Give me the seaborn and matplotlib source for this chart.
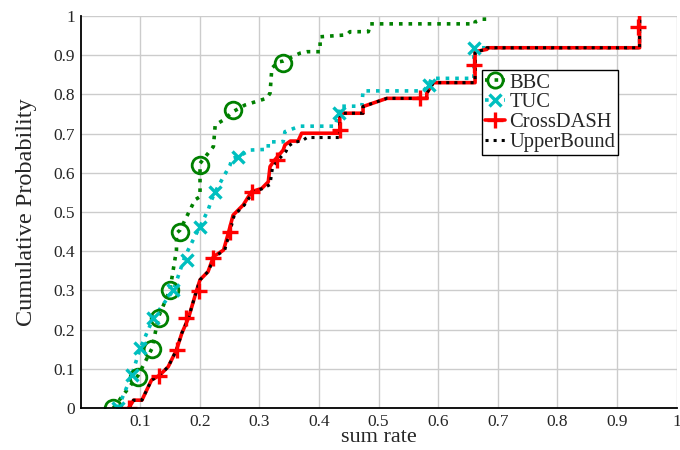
import matplotlib
matplotlib.use("Agg")
import matplotlib.pyplot as plt
from matplotlib.lines import Line2D
import seaborn as sns

# CDF curves (sum rate, cumulative probability)
bbc_x = [0.055, 0.097, 0.120, 0.131, 0.150, 0.161, 0.161, 0.167, 0.192, 0.2005, 0.2005,
         0.223, 0.226, 0.240, 0.256, 0.276, 0.312, 0.318, 0.321, 0.332, 0.340, 0.368,
         0.380, 0.402, 0.402, 0.447, 0.452, 0.483, 0.486, 0.662, 0.662, 0.673, 0.684]
bbc_y = [0.0, 0.084, 0.152, 0.233, 0.301, 0.403, 0.446, 0.454, 0.531, 0.539, 0.624,
         0.667, 0.722, 0.735, 0.756, 0.773, 0.790, 0.803, 0.867, 0.883, 0.885, 0.905,
         0.909, 0.909, 0.947, 0.952, 0.960, 0.960, 0.980, 0.980, 0.985, 0.992, 0.992]
bbc_mx = [0.055, 0.097, 0.120, 0.131, 0.150, 0.167, 0.2005, 0.256, 0.340]
bbc_my = [0.0, 0.08, 0.15, 0.23, 0.30, 0.45, 0.62, 0.76, 0.88]

tuc_x = [0.063, 0.086, 0.100, 0.122, 0.156, 0.175, 0.189, 0.2005, 0.214, 0.220, 0.226,
         0.240, 0.251, 0.254, 0.265, 0.284, 0.315, 0.315, 0.340, 0.343, 0.368, 0.427,
         0.434, 0.435, 0.472, 0.474, 0.575, 0.584, 0.589, 0.660, 0.660, 0.938, 0.938]
tuc_y = [0.0, 0.084, 0.152, 0.229, 0.301, 0.386, 0.429, 0.463, 0.505, 0.531, 0.552,
         0.590, 0.620, 0.637, 0.641, 0.658, 0.660, 0.679, 0.679, 0.705, 0.719, 0.719,
         0.753, 0.770, 0.770, 0.809, 0.809, 0.824, 0.841, 0.841, 0.919, 0.919, 1.0]
tuc_mx = [0.063, 0.086, 0.100, 0.122, 0.156, 0.178, 0.2005, 0.226, 0.265, 0.434, 0.584, 0.660]
tuc_my = [0.0, 0.084, 0.152, 0.229, 0.301, 0.378, 0.463, 0.552, 0.641, 0.753, 0.824, 0.919]

cross_x = [0.081, 0.089, 0.103, 0.119, 0.133, 0.147, 0.161, 0.170, 0.181, 0.195, 0.2005,
           0.214, 0.223, 0.240, 0.248, 0.256, 0.273, 0.287, 0.304, 0.315, 0.318, 0.326,
           0.340, 0.343, 0.352, 0.365, 0.371, 0.435, 0.435, 0.474, 0.474, 0.514, 0.581,
           0.581, 0.592, 0.662, 0.662, 0.682, 0.682, 0.938, 0.938]
cross_y = [0.0, 0.020, 0.020, 0.071, 0.084, 0.105, 0.148, 0.191, 0.229, 0.301, 0.327,
           0.348, 0.386, 0.403, 0.446, 0.492, 0.518, 0.552, 0.560, 0.577, 0.616, 0.633,
           0.658, 0.671, 0.681, 0.681, 0.701, 0.701, 0.752, 0.752, 0.769, 0.790, 0.790,
           0.803, 0.830, 0.830, 0.909, 0.915, 0.919, 0.919, 1.0]
cross_mx = [0.081, 0.131, 0.162, 0.177, 0.198, 0.222, 0.250, 0.287, 0.329, 0.435, 0.570, 0.660, 0.936]
cross_my = [0.0, 0.082, 0.148, 0.229, 0.299, 0.382, 0.450, 0.552, 0.633, 0.709, 0.790, 0.875, 0.973]

upper_x = [0.081, 0.089, 0.103, 0.119, 0.133, 0.147, 0.161, 0.170, 0.181, 0.195, 0.2005,
           0.214, 0.225, 0.242, 0.250, 0.258, 0.275, 0.290, 0.306, 0.318, 0.322, 0.330,
           0.345, 0.348, 0.357, 0.372, 0.380, 0.435, 0.435, 0.474, 0.474, 0.514, 0.581,
           0.581, 0.592, 0.662, 0.662, 0.682, 0.682, 0.938, 0.938]
upper_y = [0.0, 0.020, 0.020, 0.071, 0.084, 0.105, 0.148, 0.191, 0.229, 0.301, 0.327,
           0.348, 0.386, 0.403, 0.446, 0.492, 0.518, 0.552, 0.560, 0.570, 0.612, 0.630,
           0.655, 0.667, 0.677, 0.682, 0.690, 0.690, 0.752, 0.752, 0.769, 0.790, 0.790,
           0.803, 0.830, 0.830, 0.909, 0.915, 0.919, 0.919, 1.0]

ticks = [0, 0.1, 0.2, 0.3, 0.4, 0.5, 0.6, 0.7, 0.8, 0.9, 1]
tick_labels = ["0", "0.1", "0.2", "0.3", "0.4", "0.5", "0.6", "0.7", "0.8", "0.9", "1"]

GREEN, CYAN, RED = "#008000", "#00bfbf", "#ff0000"

sns.set_style("whitegrid", {"grid.color": "#cccccc", "axes.edgecolor": "black"})
plt.rcParams["font.family"] = ["Liberation Serif", "DejaVu Serif"]

fig = plt.figure(figsize=(6.8, 4.5), dpi=100)
ax = fig.add_axes([0.1184, 0.0933, 0.8765, 0.8711])

sns.lineplot(x=bbc_x, y=bbc_y, sort=False, estimator=None, color=GREEN,
             linestyle=":", linewidth=2.6, ax=ax, legend=False)
sns.lineplot(x=tuc_x, y=tuc_y, sort=False, estimator=None, color=CYAN,
             linestyle=":", linewidth=2.6, ax=ax, legend=False)
sns.lineplot(x=cross_x, y=cross_y, sort=False, estimator=None, color=RED,
             linestyle="-", linewidth=2.6, ax=ax, legend=False)
sns.lineplot(x=upper_x, y=upper_y, sort=False, estimator=None, color="black",
             linestyle=":", linewidth=2.2, ax=ax, legend=False)

# markers
sns.lineplot(x=bbc_mx, y=bbc_my, sort=False, estimator=None, linestyle="", marker="o",
             markersize=12, markerfacecolor="none", markeredgecolor=GREEN,
             markeredgewidth=2.0, ax=ax, legend=False)
sns.lineplot(x=tuc_mx, y=tuc_my, sort=False, estimator=None, linestyle="", marker="x",
             markersize=8, markeredgecolor=CYAN, color=CYAN,
             markeredgewidth=2.4, ax=ax, legend=False)
sns.lineplot(x=cross_mx, y=cross_my, sort=False, estimator=None, linestyle="", marker="+",
             markersize=11.5, markeredgecolor=RED, color=RED,
             markeredgewidth=2.4, ax=ax, legend=False)

ax.set_xlim(0, 1)
ax.set_ylim(0, 1)
ax.set_xticks(ticks[1:])
ax.set_xticklabels(tick_labels[1:])
ax.set_yticks(ticks)
ax.set_yticklabels(tick_labels)
ax.tick_params(axis="both", length=0, labelsize=12.5, pad=4)
ax.grid(True, color="#cccccc", linewidth=1.0)
ax.spines["top"].set_visible(False)
ax.spines["right"].set_visible(False)
for s in ("left", "bottom"):
    ax.spines[s].set_color("black")
    ax.spines[s].set_linewidth(1.3)

ax.set_xlabel("sum rate", fontsize=16, labelpad=-1)
ax.set_ylabel("Cumulative Probability", fontsize=17.5, labelpad=12)

handles = [
    Line2D([], [], color=GREEN, linestyle=":", linewidth=2.6, marker="o", markersize=11,
           markerfacecolor="none", markeredgewidth=2.0),
    Line2D([], [], color=CYAN, linestyle=":", linewidth=2.6, marker="x", markersize=8,
           markeredgewidth=2.4),
    Line2D([], [], color=RED, linestyle="-", linewidth=2.6, marker="+", markersize=11,
           markeredgewidth=2.4),
    Line2D([], [], color="black", linestyle=":", linewidth=2.2),
]
leg = ax.legend(handles, ["BBC", "TUC", "CrossDASH", "UpperBound"],
                loc="upper left", bbox_to_anchor=(0.673, 0.862), fontsize=14.8,
                frameon=True, fancybox=False, framealpha=1, edgecolor="black",
                handlelength=1.0, handletextpad=0.2, labelspacing=0.02,
                borderpad=0.15, borderaxespad=0)
leg.get_frame().set_linewidth(1.0)

fig.savefig("out.png", dpi=100)
